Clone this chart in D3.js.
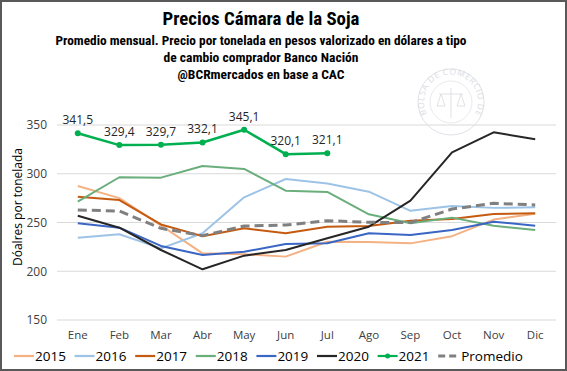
<!DOCTYPE html>
<html lang="es">
<head>
<meta charset="UTF-8">
<style>
  body { margin: 0; background: #fff; }
  svg { display: block; }
  text { font-family: "Open Sans", "Liberation Sans", sans-serif; }
  .ttl { font-family: "Liberation Sans Narrow", "Roboto Condensed", Roboto, sans-serif; font-weight: bold; fill: #000; }
</style>
</head>
<body>
<svg width="567" height="371"></svg>
<script src="https://d3js.org/d3.v7.min.js"></script>
<script>
    // valores (USD por tonelada)
    var meses = ["Ene", "Feb", "Mar", "Abr", "May", "Jun", "Jul", "Ago", "Sep", "Oct", "Nov", "Dic"]
    var yTicks = [150, 200, 250, 300, 350]

    var v2015 = [287.4, 275.0, 247.0, 218.4, 217.4, 215.0, 230.3, 230.0, 228.6, 236.0, 253.0, 259.0]
    var v2016 = [234.4, 238.0, 223.5, 239.0, 275.8, 294.6, 290.0, 281.6, 262.0, 266.9, 265.0, 265.6]
    var v2017 = [276.5, 273.0, 248.0, 236.0, 244.0, 239.0, 245.7, 246.4, 251.9, 253.6, 258.7, 259.4]
    var v2018 = [271.4, 296.4, 296.0, 308.0, 304.9, 282.6, 281.3, 258.4, 249.2, 255.0, 246.7, 242.3]
    var v2019 = [249.2, 244.7, 226.0, 216.7, 220.0, 228.0, 228.7, 239.0, 237.2, 242.3, 250.8, 246.7]
    var v2020 = [257.0, 244.7, 221.8, 202.0, 216.0, 221.8, 233.8, 245.7, 272.4, 322.0, 342.5, 335.3]
    var v2021 = [341.5, 329.4, 329.7, 332.1, 345.1, 320.1, 321.1]
    var promedio = [262.8, 261.8, 244.0, 236.5, 246.4, 247.4, 251.9, 250.2, 249.9, 263.8, 269.7, 268.0]

    var series = [
        { name: "2015", values: v2015, color: "#f4b183", width: 2 },
        { name: "2016", values: v2016, color: "#9dc3e6", width: 2 },
        { name: "2017", values: v2017, color: "#c55a11", width: 2 },
        { name: "2018", values: v2018, color: "#6aae7c", width: 2 },
        { name: "2019", values: v2019, color: "#3a66c4", width: 2 },
        { name: "2020", values: v2020, color: "#262626", width: 2 },
        { name: "2021", values: v2021, color: "#00b050", width: 2.5, dots: true, labels: true },
        { name: "Promedio", values: promedio, color: "#808080", width: 3, dash: "9,5" }
    ]

    var svg = d3.select("svg")
    var W = 567, H = 371
    var m = { left: 57, right: 11, top: 125, bottom: 51 }

    // borde
    svg.append("rect")
        .attr("x", 1).attr("y", 1)
        .attr("width", W - 2).attr("height", H - 2)
        .attr("fill", "#fff")
        .attr("stroke", "#595959")
        .attr("stroke-width", 2)

    // titulos
    var titulos = [
        { t: "Precios Cámara de la Soja", y: 25, size: 19, len: 197 },
        { t: "Promedio mensual. Precio por tonelada en pesos valorizado en dólares a tipo", y: 45, size: 13.5, len: 411 },
        { t: "de cambio comprador Banco Nación", y: 62, size: 13.5, len: 195 },
        { t: "@BCRmercados en base a CAC", y: 79, size: 13.5, len: 167 }
    ]
    svg.selectAll(".ttl").data(titulos).enter()
        .append("text")
        .attr("class", "ttl")
        .attr("x", 261)
        .attr("y", d => d.y)
        .attr("text-anchor", "middle")
        .attr("font-size", d => d.size)
        .attr("textLength", d => d.len)
        .attr("lengthAdjust", "spacingAndGlyphs")
        .text(d => d.t)

    // sello de fondo
    var sello = svg.append("g").attr("transform", "translate(451,102)").attr("opacity", 0.35)
    sello.append("circle").attr("r", 33).attr("fill", "none").attr("stroke", "#aab").attr("stroke-width", 1)
    sello.append("circle").attr("r", 21).attr("fill", "none").attr("stroke", "#aab").attr("stroke-width", 0.7)
    sello.append("path").attr("id", "arcoSello")
        .attr("d", "M -24,12 A 27,27 0 1,1 24,12").attr("fill", "none")
    sello.append("text").attr("font-size", 8.5).attr("fill", "#99a").attr("letter-spacing", 0.6)
        .append("textPath").attr("href", "#arcoSello").text("BOLSA DE COMERCIO DE ROSARIO")
    sello.append("path").attr("d", "M -12,-8 L 12,-8 M 0,-14 L 0,16 M -14,4 L -10,-8 L -6,4 Z M 6,4 L 10,-8 L 14,4 Z")
        .attr("fill", "none").attr("stroke", "#99a").attr("stroke-width", 0.8)

    var x = d3.scaleBand().domain(meses).range([m.left, W - m.right])
    var y = d3.scaleLinear().domain([150, 350]).range([320, 125])
    var cx = d => x(d) + x.bandwidth() / 2

    // grilla
    svg.append("g")
        .selectAll("line").data(yTicks).enter()
        .append("line")
        .attr("x1", m.left).attr("x2", W - m.right)
        .attr("y1", d => y(d)).attr("y2", d => y(d))
        .attr("stroke", "#d9d9d9").attr("stroke-width", 1)

    // ejes
    var yAxis = svg.append("g")
        .attr("transform", "translate(" + m.left + ",0)")
        .call(d3.axisLeft(y).tickValues(yTicks).tickSize(0).tickPadding(10))
    yAxis.select(".domain").remove()
    yAxis.selectAll("text").attr("font-size", 12).attr("fill", "#404040")
        .attr("font-family", "'Open Sans', sans-serif")

    var xAxis = svg.append("g")
        .attr("transform", "translate(0,320)")
        .call(d3.axisBottom(x).tickSize(0).tickPadding(11))
    xAxis.select(".domain").remove()
    xAxis.selectAll("text").attr("font-size", 11.5).attr("fill", "#404040")
        .attr("font-family", "'Open Sans', sans-serif")

    svg.append("text")
        .attr("transform", "translate(22,207) rotate(-90)")
        .attr("text-anchor", "middle")
        .attr("font-size", 12)
        .attr("fill", "#000")
        .text("Dóalres por tonelada")

    // lineas
    var linea = d3.line()
        .x((d, i) => cx(meses[i]))
        .y(d => y(d))
        .curve(d3.curveLinear)

    series.forEach(function (s) {
        svg.append("path")
            .datum(s.values)
            .attr("fill", "none")
            .attr("stroke", s.color)
            .attr("stroke-width", s.width)
            .attr("stroke-dasharray", s.dash || null)
            .attr("stroke-linejoin", "round")
            .attr("d", linea)

        if (s.dots) {
            svg.append("g").selectAll("circle")
                .data(s.values).enter()
                .append("circle")
                .attr("cx", (d, i) => cx(meses[i]))
                .attr("cy", d => y(d))
                .attr("r", 3)
                .attr("fill", s.color)
        }
        if (s.labels) {
            svg.append("g").selectAll("text")
                .data(s.values).enter()
                .append("text")
                .attr("x", (d, i) => cx(meses[i]))
                .attr("y", d => y(d) - 9)
                .attr("text-anchor", "middle")
                .attr("font-size", 12)
                .attr("fill", "#262626")
                .text(d => d3.format(".1f")(d).replace(".", ","))
        }
    })

    // leyenda
    var leg = svg.append("g").attr("transform", "translate(14,356)")
    series.forEach(function (s, i) {
        var g = leg.append("g").attr("transform", "translate(" + (i * 60.6) + ",0)")
        g.append("line")
            .attr("x1", 0).attr("x2", 20)
            .attr("y1", 0).attr("y2", 0)
            .attr("stroke", s.color)
            .attr("stroke-width", s.dash ? 3 : 2.2)
            .attr("stroke-dasharray", s.dash ? "7,4" : null)
        if (s.dots) g.append("circle").attr("cx", 10).attr("r", 2.5).attr("fill", s.color)
        g.append("text")
            .attr("x", s.dash ? 23 : 21)
            .attr("y", 5)
            .attr("font-size", 13.5)
            .attr("fill", "#000")
            .text(s.name)
    })
</script>
</body>
</html>
